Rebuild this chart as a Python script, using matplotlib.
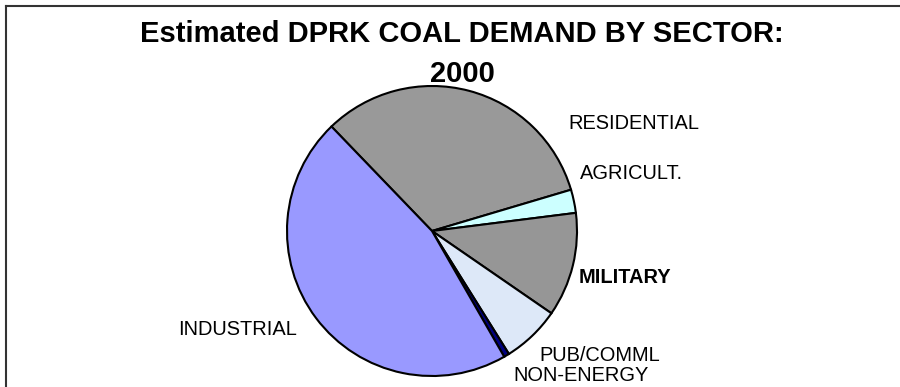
import matplotlib
matplotlib.use("Agg")
import matplotlib.pyplot as plt
from matplotlib.lines import Line2D

# sector shares of coal demand, percent (clockwise from upper left)
sectors = ["RESIDENTIAL", "AGRICULT.", "MILITARY", "PUB/COMML", "NON-ENERGY", "INDUSTRIAL"]
shares = [32.6, 2.6, 11.6, 6.5, 0.6, 46.1]
colors = ["#999999", "#CCFFFF", "#969696", "#DDE8F8", "#000080", "#9999FF"]

W, H = 900, 387
plt.rcParams['font.family'] = ['Liberation Sans', 'DejaVu Sans']

fig = plt.figure(figsize=(W / 100, H / 100), dpi=100)
ax = fig.add_axes([0, 0, 1, 1])
ax.axis("off")

# pie, pixel units (y measured from the bottom)
ax.pie(shares, colors=colors, center=(432, H - 231), radius=145,
       startangle=133.9, counterclock=False,
       wedgeprops=dict(edgecolor="black", linewidth=1.5))
ax.set_xlim(0, W)
ax.set_ylim(0, H)
ax.set_aspect("auto")

def py(y):
    return H - y

lab_font = 14.4
ax.text(568, py(129), sectors[0], fontsize=lab_font, ha="left", va="baseline")
ax.text(580, py(179), sectors[1], fontsize=lab_font, ha="left", va="baseline")
ax.text(579, py(283), sectors[2], fontsize=lab_font, fontweight="bold", ha="left", va="baseline")
ax.text(539, py(361), sectors[3], fontsize=lab_font, ha="left", va="baseline")
ax.text(513, py(381), sectors[4], fontsize=lab_font, ha="left", va="baseline")
ax.text(297, py(335), sectors[5], fontsize=lab_font, ha="right", va="baseline")

# title, wrapped onto two lines
ax.text(462, py(42), "Estimated DPRK COAL DEMAND BY SECTOR:", fontsize=21,
        fontweight="bold", ha="center", va="baseline")
ax.text(462, py(82), "2000", fontsize=21, fontweight="bold", ha="center", va="baseline")

# chart frame (left and top edges)
fig.add_artist(Line2D([6 / W, 6 / W], [0, 1 - 6 / H], transform=fig.transFigure,
                      color="#333333", linewidth=1.5))
fig.add_artist(Line2D([6 / W, 1], [1 - 6 / H, 1 - 6 / H], transform=fig.transFigure,
                      color="#333333", linewidth=1.5))

fig.savefig("out.png", dpi=100)
